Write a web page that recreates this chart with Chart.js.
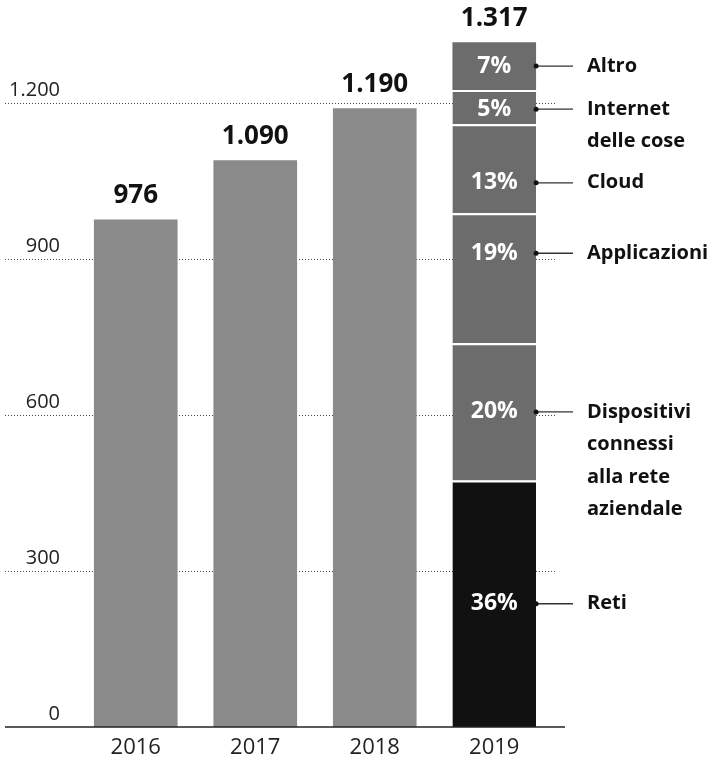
<!DOCTYPE html>
<html>
<head>
<meta charset="utf-8">
<script src="https://cdn.jsdelivr.net/npm/chart.js@4/dist/chart.umd.min.js"></script>
<style>
  html, body { margin: 0; padding: 0; background: #fff; }
  #wrap { width: 715px; height: 766px; }
</style>
</head>
<body>
<div id="wrap"><canvas id="c" width="715" height="766"></canvas></div>
<script>
// ---- data ----
const categories = ['2016', '2017', '2018', '2019'];
const yearTotals = [976, 1090, 1190, null];            // single bars 2016-2018
const segmentLabels = [['Reti'], ['Dispositivi', 'connessi', 'alla rete', 'aziendale'], ['Applicazioni'], ['Cloud'], ['Internet', 'delle cose'], ['Altro']];
const segmentValues2019 = [474, 264, 250, 171, 66, 92]; // bottom to top, sum 1.317
const segmentShares = ['36%', '20%', '19%', '13%', '5%', '7%'];
const yTickValues = [0, 300, 600, 900, 1200];

// ---- styles ----
const FONT = '"Open Sans", "DejaVu Sans", sans-serif';
const colTotal = '#8a8a8a';
const segColors = ['#111111', '#6c6c6c', '#6c6c6c', '#6c6c6c', '#6c6c6c', '#6c6c6c'];
const labelShift = [0, 0, -25, 14, 2, 0]; // vertical nudge of side labels (px)

function fmt(n) { return String(n).replace(/\B(?=(\d{3})+(?!\d))/g, '.'); }

const datasets = [{
  label: 'Totale',
  data: yearTotals,
  backgroundColor: colTotal,
  borderWidth: 0,
  stack: 's'
}];
segmentValues2019.forEach((v, i) => {
  datasets.push({
    label: segmentLabels[i].join(' '),
    data: categories.map((c, k) => k === 3 ? v : null),
    backgroundColor: segColors[i],
    borderColor: 'rgba(255,255,255,0.9)',
    borderWidth: i === segmentValues2019.length - 1 ? 0 : { top: 2, left: 0, right: 0, bottom: 0 },
    borderSkipped: false,
    stack: 's',
    segIndex: i
  });
});

const deco = {
  id: 'deco',
  beforeDatasetsDraw(chart) {
    const { ctx, scales: { y } } = chart;
    ctx.save();
    ctx.strokeStyle = '#444';
    ctx.lineWidth = 1;
    ctx.setLineDash([1, 2]);
    yTickValues.forEach(v => {
      if (v === 0) return;
      const py = Math.round(y.getPixelForValue(v)) + 0.5;
      ctx.beginPath(); ctx.moveTo(5, py); ctx.lineTo(557, py); ctx.stroke();
    });
    ctx.setLineDash([]);
    ctx.fillStyle = '#222';
    ctx.font = '20px ' + FONT;
    ctx.textAlign = 'right';
    ctx.textBaseline = 'alphabetic';
    yTickValues.forEach(v => {
      const py = y.getPixelForValue(v);
      ctx.fillText(fmt(v), 60, py - 7);
    });
    ctx.restore();
  },
  afterDatasetsDraw(chart) {
    const { ctx, scales: { x, y } } = chart;
    ctx.save();
    // baseline
    const by = y.getPixelForValue(0);
    ctx.strokeStyle = '#222'; ctx.lineWidth = 1.5;
    ctx.beginPath(); ctx.moveTo(5, by); ctx.lineTo(565, by); ctx.stroke();

    // totals above bars
    ctx.fillStyle = '#111';
    ctx.font = 'bold 26px ' + FONT;
    ctx.textAlign = 'center'; ctx.textBaseline = 'middle';
    categories.forEach((c, k) => {
      const tot = k === 3 ? segmentValues2019.reduce((a, b) => a + b, 0) : yearTotals[k];
      const ty = y.getPixelForValue(tot);
      ctx.fillText(fmt(tot), x.getPixelForValue(k), ty - 24);
    });

    // 2019 segments
    chart.data.datasets.forEach((ds, di) => {
      if (ds.segIndex === undefined) return;
      const el = chart.getDatasetMeta(di).data[3];
      if (!el) return;
      const i = ds.segIndex;
      const cy = (el.y + el.base) / 2 + labelShift[i];
      const right = el.x + el.width / 2;
      ctx.fillStyle = '#fff';
      ctx.font = 'bold 23px ' + FONT;
      ctx.textAlign = 'center'; ctx.textBaseline = 'middle';
      ctx.fillText(segmentShares[i], el.x, cy);
      // connector
      ctx.strokeStyle = '#333'; ctx.lineWidth = 1.3;
      ctx.beginPath(); ctx.moveTo(right, cy); ctx.lineTo(573, cy); ctx.stroke();
      ctx.fillStyle = '#111';
      ctx.beginPath(); ctx.arc(right, cy, 2.5, 0, Math.PI * 2); ctx.fill();
      ctx.font = 'bold 20px ' + FONT;
      ctx.textAlign = 'left';
      segmentLabels[i].forEach((line, li) => ctx.fillText(line, 587, cy + li * 32.5));
    });
    ctx.restore();
  }
};

new Chart(document.getElementById('c'), {
  type: 'bar',
  data: { labels: categories, datasets },
  options: {
    responsive: false,
    animation: false,
    layout: { padding: { left: 76, right: 161, top: 25, bottom: 0 } },
    datasets: { bar: { barPercentage: 0.7, categoryPercentage: 1.0, skipNull: true } },
    plugins: { legend: { display: false }, tooltip: { enabled: false } },
    scales: {
      x: {
        stacked: true,
        grid: { display: false, drawTicks: false },
        border: { display: false },
        ticks: { color: '#222', font: { family: FONT, size: 22 }, padding: 8 },
        afterFit(s) { s.height = 39; }
      },
      y: {
        stacked: true,
        display: false,
        min: 0, max: 1350
      }
    }
  },
  plugins: [deco]
});
</script>
</body>
</html>
